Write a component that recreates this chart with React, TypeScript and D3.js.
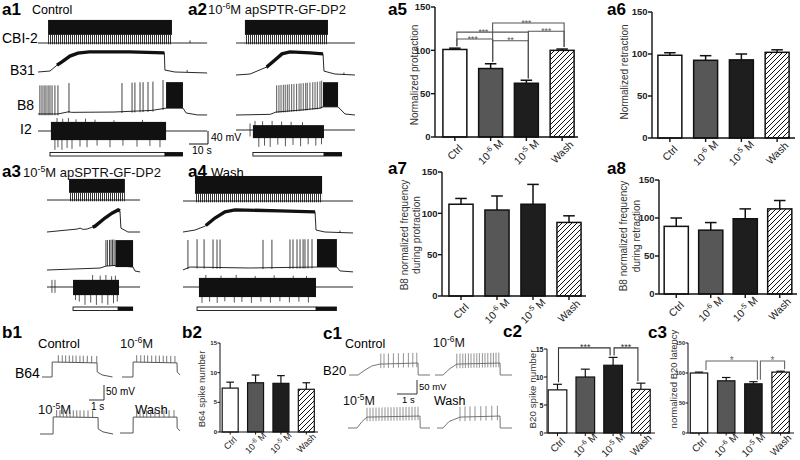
import React from "react";
import * as d3 from "d3";

const FONT = "Arial, 'Liberation Sans', Helvetica, sans-serif";

/* ---------------- bar-chart data ---------------- */
const conditions = ["Ctrl", "1e-6", "1e-5", "Wash"];
const conditionText = ["Ctrl", "10", "10", "Wash"];
const conditionExp = ["", "-6", "-5", ""];
const conditionUnit = ["", " M", " M", ""];
const barFills = ["#ffffff", "#575757", "#1e1e1e", "url(#hatch)"];

const ticks150 = [0, 50, 100, 150];
const ticks15 = [0, 5, 10, 15];

const a5Protraction = [101, 79, 62, 100];
const a5Err = [1.5, 5.5, 3.5, 1.5];
const a6Retraction = [98.5, 92.5, 93, 102];
const a6Err = [3, 5.5, 7, 3];
const a7FreqProtraction = [111, 104, 111, 89];
const a7Err = [7, 17, 24, 8];
const a8FreqRetraction = [89, 84, 99, 112];
const a8Err = [11, 10, 13, 11];
const b2SpikeNumber = [7.4, 8.3, 8.2, 7.2];
const b2Err = [1, 1.3, 1.3, 1.1];
const c2SpikeNumber = [7.7, 10, 12.1, 7.8];
const c2Err = [1, 1.4, 1.4, 1.1];
const c3Latency = [100, 87, 82, 101.5];
const c3Err = [1.5, 5.5, 3.5, 1.5];

type Bracket = { from: number; to: number; level: number; label: string; at?: number };
const a5Sig: Bracket[] = [
  { from: 0, to: 1, level: 113, label: "***", at: 0.5 },
  { from: 0, to: 2, level: 121, label: "***", at: 0.8 },
  { from: 1, to: 3, level: 131.5, label: "***", at: 2 },
  { from: 1, to: 2, level: 111, label: "**" },
  { from: 2, to: 3, level: 122, label: "***" },
];
const c2Sig: Bracket[] = [
  { from: 0, to: 2, level: 15.2, label: "***", at: 1 },
  { from: 2, to: 3, level: 15.2, label: "***" },
];
const c3Sig: Bracket[] = [
  { from: 0, to: 2, level: 120, label: "*", at: 1.2 },
  { from: 2, to: 3, level: 120, label: "*", at: 2.7 },
];

/* ---------------- trace data (time in s, potential in mV rel. rest) ---------------- */
type TraceSpec = {
  pts: [number, number][];
  spikes?: number[];
  spikeUp?: number;
  spikeDown?: number;
  blocks?: [number, number, number, number][];
  teeth?: [number, number, number, number][];
  thick?: [number, number];
  tips?: [number, number][];
};

// a1 Control
const a1Cbi2: TraceSpec = { pts: [[0, 0], [89, 0]], blocks: [[5.3, 70.5, 25, 71]], teeth: [[5.3, 70.5, -4, 25]], spikes: [80], spikeUp: 8 };
const a1B31: TraceSpec = {
  pts: [[0, 0], [6.3, 3], [10, 21], [12.6, 31], [16.8, 49], [21, 58], [27, 62], [48, 62], [66.5, 59], [66.8, 6], [72, 0], [78, -1], [89, -3]],
  thick: [10, 66.5], spikes: [78.5], spikeUp: 7,
};
const a1B8: TraceSpec = {
  pts: [[0, -3], [10.5, -3], [16.3, 4], [17.5, 2], [40, 3], [60, 8], [67.4, 15], [76.3, 15], [78, 0], [84, -6], [89, -6]],
  blocks: [[67.4, 76.3, 15, 95]],
  spikes: [1, 2.1, 3.2, 4.2, 5.3, 6.3, 7.4, 8.9, 10.5, 16.3, 44.2, 49.5, 51, 53.7, 55.3, 57.9, 60.5, 65.8],
  spikeUp: 88, spikeDown: 4,
};
const a1I2: TraceSpec = {
  pts: [[0, 0], [89, 0]], blocks: [[6.8, 67.4, -28, 28]],
  tips: [[10, 40], [13, 38], [16, 40], [20, 36], [25, 38], [30, 35], [40, 33], [55, 34],
    [8.9, -58], [10.5, -50], [12.6, -58], [15.3, -52], [17.9, -55], [22.1, -48], [25.8, -50], [31.1, -45], [37.9, -50], [44.7, -45], [52.1, -48], [58.9, -46], [64.2, -50]],
};
const a1Phases = [6.3, 66.8, 76.3];

// a2 10^-6 M
const a2Cbi2: TraceSpec = { pts: [[0, 0], [62.6, 0]], blocks: [[4.7, 48.4, 25, 71]], teeth: [[4.7, 48.4, -4, 25]] };
const a2B31: TraceSpec = {
  pts: [[0, 0], [7.4, 3], [16.3, 25], [20.5, 46], [24.2, 65], [28.4, 71], [39, 68], [45.8, 65], [46.3, 12], [52, 3], [62.6, 0]],
  thick: [16, 45.8], spikes: [56.8], spikeUp: 6,
};
const a2B8: TraceSpec = {
  pts: [[0, 0], [18, 2], [21, 9], [33.7, 15], [44, 21], [45.8, 25], [53.7, 25], [57.4, 3], [62.6, 0]],
  blocks: [[45.8, 53.7, 25, 101]],
  spikes: [21.4, 22.6, 23.7, 24.9, 25.9, 27, 28, 29.3, 30.5, 31.9, 33.2, 34.2, 35.4, 36.7, 37.5, 38.9, 40.4, 41.6, 42.8, 44.2, 45.1],
  spikeUp: 82, spikeDown: 3,
};
const a2I2: TraceSpec = {
  pts: [[0, 0], [62.6, 0]], blocks: [[8.9, 46.3, -25, 15]],
  tips: [[7.4, 20], [7.4, -20], [10, 28], [14, 27], [19, 28], [24, 26], [29, 25], [35, 24],
    [12, -52], [15, -48], [18, -52], [22, -45], [26, -50], [30, -46], [34, -50], [38, -44], [42, -48], [45, -44]],
};
const a2Phases = [8.9, 46.3, 55.8];

// a3 10^-5 M
const a3Cbi2: TraceSpec = { pts: [[0, 0], [49, 0]], blocks: [[11.6, 41, 22, 65]], teeth: [[11.6, 41, -4, 22]] };
const a3B31: TraceSpec = {
  pts: [[0, 0], [15.8, 9], [17.4, 12], [19, 8], [21, 9], [25.3, 18], [30.5, 43], [34.2, 58], [37.4, 68], [38.4, 65], [38.9, 12], [42.6, 0], [49, 0]],
  thick: [24, 38.4],
};
const a3B8: TraceSpec = {
  pts: [[0, 0], [27.9, 6], [31, 12], [36, 14], [45.3, 9], [46.3, -3], [49, -6]],
  blocks: [[36, 45.3, 9, 92]],
  spikes: [31, 31.8, 32.9, 33.7, 34.5, 35.3], spikeUp: 80,
};
const a3I2: TraceSpec = {
  pts: [[0, 0], [49, 0]], blocks: [[13.7, 37.9, -25, 22]],
  tips: [[2.6, 22], [2.6, -18], [4.2, 22], [4.2, -18], [24, 37], [28, 35], [31, 37], [34, 33], [36, 35],
    [15, -40], [17, -45], [20, -55], [23, -48], [26, -55], [29, -50], [32, -55], [35, -50], [37, -45]],
};
const a3Phases = [13.7, 37.4, 45.3];

// a4 Wash
const a4Cbi2: TraceSpec = { pts: [[0, 0], [89.5, 0]], blocks: [[6.3, 73.2, 22, 77]], teeth: [[6.3, 73.2, -4, 22]] };
const a4B31: TraceSpec = {
  pts: [[0, 0], [6.3, 6], [11.6, 18], [16.8, 43], [22.1, 62], [27.4, 68], [51, 65], [69.5, 62], [70, 6], [74.7, 0], [89.5, -3]],
  thick: [12, 69.5], spikes: [82.6], spikeUp: 6,
};
const a4B8: TraceSpec = {
  pts: [[0, -6], [3.7, 3], [35, 0], [70.5, 3], [81, 3], [82.6, -9], [89.5, -12]],
  blocks: [[70.5, 81, 3, 89]],
  spikes: [2.6, 7.4, 11.1, 15.8, 17.9, 19.5, 42.1, 46.8, 56.3, 57.9, 60, 61.6, 63.2, 64.2, 65.8, 67.9],
  spikeUp: 86, spikeDown: 4,
};
const a4I2: TraceSpec = {
  pts: [[0, 0], [89.5, 0]], blocks: [[8.4, 70, -31, 28]],
  tips: [[12, 37], [20, 35], [28, 37], [38, 34], [48, 36], [58, 35], [65, 34],
    [10, -49], [14, -45], [18, -49], [22, -44], [27, -48], [31, -46], [36, -49], [41, -45], [46, -48], [51, -44], [56, -47], [61, -45], [66, -48]],
};
const a4Phases = [7.4, 70, 81];

// b1 B64
const b1Control: TraceSpec = {
  pts: [[0, 0], [0.67, 0], [0.68, 50], [3.67, 47], [3.68, 17], [4.0, 7], [4.7, 0]],
  spikes: [1.09, 1.35, 1.58, 1.82, 2.05, 2.27, 2.53, 2.75, 3.02, 3.31, 3.65], spikeUp: 23,
};
const b1Low: TraceSpec = {
  pts: [[0, 0], [0.73, 0], [0.74, 50], [3.67, 47], [3.68, 17], [3.87, 7]],
  spikes: [0.98, 1.25, 1.49, 1.71, 1.98, 2.25, 2.49, 2.75, 2.98, 3.25, 3.53], spikeUp: 23,
};
const b1High: TraceSpec = {
  pts: [[0, 0], [0.87, 0], [0.88, 57], [3.87, 55], [3.88, 17], [4.2, 7], [4.87, 0]],
  spikes: [1.11, 1.33, 1.55, 1.78, 2, 2.22, 2.45, 2.67, 2.93, 3.2, 3.51], spikeUp: 23,
};
const b1Wash: TraceSpec = {
  pts: [[0, 0], [0.87, 0], [0.88, 53], [3.8, 53], [3.81, 17], [4.0, 7]],
  spikes: [1.11, 1.33, 1.55, 1.78, 2.05, 2.33, 2.62, 2.93, 3.27, 3.6], spikeUp: 23,
};

// c1 B20
const c1Control: TraceSpec = {
  pts: [[0, 0], [0.45, 0], [0.8, 19], [1.15, 35], [1.55, 42], [3.45, 46], [3.46, 0], [4.05, 0]],
  spikes: [1.59, 1.75, 1.97, 2.22, 2.47, 2.72, 2.97, 3.19, 3.39], spikeUp: 40, spikeDown: 16,
};
const c1Low: TraceSpec = {
  pts: [[0, 0], [0.4, 0], [0.75, 25], [1.1, 42], [3.25, 46], [3.26, 0], [3.85, 0]],
  spikes: [1.09, 1.25, 1.39, 1.52, 1.67, 1.8, 1.95, 2.09, 2.22, 2.37, 2.5, 2.64, 2.79, 2.92, 3.05, 3.19], spikeUp: 40, spikeDown: 16,
};
const c1High: TraceSpec = {
  pts: [[0, 0], [0.45, 0], [0.7, 25], [0.95, 42], [3.6, 46], [3.61, 0], [4.1, 0]],
  spikes: [0.95, 1.1, 1.25, 1.4, 1.55, 1.7, 1.85, 2.0, 2.15, 2.3, 2.45, 2.6, 2.75, 2.9, 3.05, 3.2, 3.35, 3.5], spikeUp: 36, spikeDown: 16,
};
const c1Wash: TraceSpec = {
  pts: [[0, 0], [0.3, 0], [0.6, 25], [1.15, 42], [3.15, 46], [3.16, 0], [3.75, 0]],
  spikes: [1.15, 1.4, 1.65, 1.9, 2.19, 2.45, 2.74, 3.02], spikeUp: 40, spikeDown: 16,
};

/* ---------------- components ---------------- */
type Lin = d3.ScaleLinear<number, number>;

function TraceG({ spec, xs, ys, color = "#111", w = 0.9, spikeW = 0.8 }: { spec: TraceSpec; xs: Lin; ys: Lin; color?: string; w?: number; spikeW?: number }) {
  const line = d3.line<[number, number]>().x((d) => xs(d[0])).y((d) => ys(d[1]));
  const base = d3.scaleLinear().domain(spec.pts.map((p) => p[0])).range(spec.pts.map((p) => p[1])).clamp(true);
  const up = spec.spikeUp || 0;
  const dn = spec.spikeDown || 0;
  const spikeD = (spec.spikes || [])
    .map((t) => `M${xs(t)},${ys(base(t) - dn)}L${xs(t)},${ys(base(t) + up)}`)
    .join("");
  const tipD = (spec.tips || []).map(([t, v]) => `M${xs(t)},${ys(base(t))}L${xs(t)},${ys(v)}`).join("");
  let thickD: string | null = null;
  if (spec.thick) {
    const [t0, t1] = spec.thick;
    const seg: [number, number][] = [[t0, base(t0)], ...spec.pts.filter((p) => p[0] > t0 && p[0] < t1), [t1, base(t1)]];
    thickD = line(seg);
  }
  return (
    <g>
      {(spec.teeth || []).map(([t0, t1, lo, hi], i) => (
        <rect key={"t" + i} x={xs(t0)} y={ys(hi)} width={xs(t1) - xs(t0)} height={ys(lo) - ys(hi)} fill="url(#teeth)" />
      ))}
      <path d={line(spec.pts) || ""} fill="none" stroke={color} strokeWidth={w} />
      {thickD && <path d={thickD} fill="none" stroke={color} strokeWidth={3.4} />}
      {spikeD && <path d={spikeD} fill="none" stroke={color} strokeWidth={spikeW} />}
      {tipD && <path d={tipD} fill="none" stroke={color} strokeWidth={0.7} />}
      {(spec.blocks || []).map(([t0, t1, lo, hi], i) => (
        <rect key={"b" + i} x={xs(t0)} y={ys(hi)} width={xs(t1) - xs(t0)} height={ys(lo) - ys(hi)} fill={color} />
      ))}
    </g>
  );
}

function PhaseBar({ phases, xs, y }: { phases: number[]; xs: Lin; y: number }) {
  return (
    <g>
      <rect x={xs(phases[0])} y={y} width={xs(phases[1]) - xs(phases[0])} height={3.5} fill="#fff" stroke="#111" strokeWidth={0.9} />
      <rect x={xs(phases[1])} y={y - 0.45} width={xs(phases[2]) - xs(phases[1])} height={4.4} fill="#111" />
    </g>
  );
}

const aY = (base: number) => d3.scaleLinear().domain([0, 40]).range([base, base - 13]);
const aX = (x0: number) => d3.scaleLinear().domain([0, 10]).range([x0, x0 + 19]);
const bX = (x0: number) => d3.scaleLinear().domain([0, 1]).range([x0, x0 + 15]);
const bY = (base: number) => d3.scaleLinear().domain([0, 50]).range([base, base - 15]);
const cX = (x0: number) => d3.scaleLinear().domain([0, 1]).range([x0, x0 + 20]);
const cY = (base: number) => d3.scaleLinear().domain([0, 50]).range([base, base - 13]);

type BarProps = {
  band: [number, number]; pad: number; axisX: number; axisEnd: number;
  yRange: [number, number]; max: number; ticks: number[];
  values: number[]; errs: number[];
  tickFont: number; xFont: number; xDy: number;
  ylabel: string[]; ylabelX: number[]; ylabelY: number; ylabelFont: number;
  sig?: Bracket[]; sigColor?: string; starFont?: number; legDx?: [number, number];
  barStroke: number; axisStroke: number; tickLen: number;
};

function BarPanel(p: BarProps) {
  const x = d3.scaleBand<string>().domain(conditions).range(p.band).paddingInner(p.pad).paddingOuter(p.pad / 2);
  const y = d3.scaleLinear().domain([0, p.max]).range(p.yRange);
  const bw = x.bandwidth();
  const cx = (i: number) => (x(conditions[i]) as number) + bw / 2;
  const at = d3.scaleLinear().domain([0, 1]).range([cx(0), cx(1)]);
  const y0 = y(0);
  const legDx = p.legDx || [2, 2];
  const sc = p.sigColor || "#444";
  return (
    <g>
      {p.values.map((v, i) => (
        <g key={i}>
          <line x1={cx(i)} x2={cx(i)} y1={y(v)} y2={y(v + p.errs[i])} stroke="#111" strokeWidth={p.barStroke} />
          <line x1={cx(i) - bw * 0.24} x2={cx(i) + bw * 0.24} y1={y(v + p.errs[i])} y2={y(v + p.errs[i])} stroke="#111" strokeWidth={p.barStroke} />
          <rect x={x(conditions[i])} y={y(v)} width={bw} height={y0 - y(v)} fill={barFills[i]} stroke="#111" strokeWidth={p.barStroke} />
        </g>
      ))}
      <line x1={p.axisX} x2={p.axisX} y1={y0} y2={y(p.max)} stroke="#111" strokeWidth={p.axisStroke} />
      {p.ticks.map((t) => (
        <g key={t}>
          <line x1={p.axisX - p.tickLen} x2={p.axisX} y1={y(t)} y2={y(t)} stroke="#111" strokeWidth={p.axisStroke} />
          <text x={p.axisX - p.tickLen - 0.5} y={y(t)} dy="0.36em" textAnchor="end" fontSize={p.tickFont} fontWeight="bold" fill="#222">{t}</text>
        </g>
      ))}
      <line x1={p.axisX} x2={p.axisEnd} y1={y0} y2={y0} stroke="#111" strokeWidth={p.axisStroke} />
      {conditions.map((c, i) => (
        <line key={c} x1={cx(i)} x2={cx(i)} y1={y0} y2={y0 + p.tickLen} stroke="#111" strokeWidth={p.axisStroke} />
      ))}
      {conditions.map((c, i) => (
        <text key={"l" + c} transform={`translate(${cx(i)},${y0 + p.xDy}) rotate(-45)`} textAnchor="middle" fontSize={p.xFont} fill="#222" dy="0.35em">
          {conditionText[i]}
          {conditionExp[i] && <tspan dy={-p.xFont * 0.4} fontSize={p.xFont * 0.72}>{conditionExp[i]}</tspan>}
          {conditionUnit[i] && <tspan dy={p.xFont * 0.4}>{conditionUnit[i]}</tspan>}
        </text>
      ))}
      {p.ylabel.map((s, k) => (
        <text key={s} transform={`translate(${p.ylabelX[k]},${p.ylabelY}) rotate(-90)`} textAnchor="middle" fontSize={p.ylabelFont} fill="#333">{s}</text>
      ))}
      {(p.sig || []).map((b, k) => {
        const xl = cx(b.from) + legDx[0];
        const xr = cx(b.to) + legDx[1];
        const yl = y(b.level);
        const bl = y(p.values[b.from] + p.errs[b.from]) - 2;
        const br = y(p.values[b.to] + p.errs[b.to]) - 2;
        const sx = b.at !== undefined ? at(b.at) : (xl + xr) / 2;
        return (
          <g key={"s" + k}>
            <path d={`M${xl},${bl}V${yl}H${xr}V${br}`} fill="none" stroke={sc} strokeWidth={1.1} />
            <text x={sx} y={yl + 2.6} textAnchor="middle" fontSize={p.starFont || 10} fill={sc}>{b.label}</text>
          </g>
        );
      })}
    </g>
  );
}

function Sup({ x, y, size, base, exp, rest }: { x: number; y: number; size: number; base: string; exp: string; rest: string }) {
  return (
    <text x={x} y={y} fontSize={size} fill="#111">
      {base}
      <tspan dy={-size * 0.4} fontSize={size * 0.68}>{exp}</tspan>
      <tspan dy={size * 0.4}>{rest}</tspan>
    </text>
  );
}

const PL = 17; // panel label font size

export default function App() {
  const x1 = aX(38), x2 = aX(236), x3 = aX(47), x4 = aX(183);
  return (
    <svg width={800} height={460} viewBox="0 0 800 460" style={{ position: "absolute", left: 0, top: 0, fontFamily: FONT }}>
      <defs>
        <pattern id="hatch" patternUnits="userSpaceOnUse" width={5} height={5}>
          <rect width={5} height={5} fill="#fff" />
          <path d="M-1,1 l2,-2 M0,5 l5,-5 M4,6 l2,-2" stroke="#111" strokeWidth={1} />
        </pattern>
        <pattern id="teeth" patternUnits="userSpaceOnUse" width={2} height={20}>
          <rect x={0} y={0} width={1} height={20} fill="#333" />
        </pattern>
      </defs>
      <rect width={800} height={460} fill="#fff" />

      {/* ---------- a1 ---------- */}
      <text x={2} y={15} fontSize={PL} fontWeight="bold">a1</text>
      <text x={32} y={13.5} fontSize={12.5}>Control</text>
      <text x={2} y={43} fontSize={14}>CBI-2</text>
      <text x={10} y={75} fontSize={14}>B31</text>
      <text x={17} y={110} fontSize={14}>B8</text>
      <text x={20} y={134} fontSize={14}>I2</text>
      <TraceG spec={a1Cbi2} xs={x1} ys={aY(43)} />
      <TraceG spec={a1B31} xs={x1} ys={aY(72)} />
      <TraceG spec={a1B8} xs={x1} ys={aY(113)} />
      <TraceG spec={a1I2} xs={x1} ys={aY(131)} />
      <PhaseBar phases={a1Phases} xs={x1} y={152.5} />
      <path d="M189,144H208V131" fill="none" stroke="#111" strokeWidth={1} />
      <text x={211} y={141} fontSize={10.5}>40 mV</text>
      <text x={192} y={154} fontSize={10.5}>10 s</text>

      {/* ---------- a2 ---------- */}
      <text x={188} y={15} fontSize={PL} fontWeight="bold">a2</text>
      <Sup x={208} y={14} size={13} base="10" exp="-6" rest="M apSPTR-GF-DP2" />
      <TraceG spec={a2Cbi2} xs={x2} ys={aY(43)} />
      <TraceG spec={a2B31} xs={x2} ys={aY(75)} />
      <TraceG spec={a2B8} xs={x2} ys={aY(115)} spikeW={0.7} />
      <TraceG spec={a2I2} xs={x2} ys={aY(130)} />
      <PhaseBar phases={a2Phases} xs={x2} y={152.5} />

      {/* ---------- a3 ---------- */}
      <text x={2} y={177} fontSize={PL} fontWeight="bold">a3</text>
      <Sup x={23} y={177} size={13} base="10" exp="-5" rest="M apSPTR-GF-DP2" />
      <TraceG spec={a3Cbi2} xs={x3} ys={aY(200)} />
      <TraceG spec={a3B31} xs={x3} ys={aY(232)} />
      <TraceG spec={a3B8} xs={x3} ys={aY(270)} />
      <TraceG spec={a3I2} xs={x3} ys={aY(287)} />
      <PhaseBar phases={a3Phases} xs={x3} y={307} />

      {/* ---------- a4 ---------- */}
      <text x={188} y={177} fontSize={PL} fontWeight="bold">a4</text>
      <text x={211} y={177} fontSize={13}>Wash</text>
      <TraceG spec={a4Cbi2} xs={x4} ys={aY(201)} />
      <TraceG spec={a4B31} xs={x4} ys={aY(232)} />
      <TraceG spec={a4B8} xs={x4} ys={aY(268)} />
      <TraceG spec={a4I2} xs={x4} ys={aY(287)} />
      <PhaseBar phases={a4Phases} xs={x4} y={307} />

      {/* ---------- a5 - a8 ---------- */}
      <text x={388} y={15} fontSize={PL} fontWeight="bold">a5</text>
      <BarPanel band={[437, 580]} pad={0.33} axisX={435} axisEnd={578} yRange={[137, 7]} max={150} ticks={ticks150}
        values={a5Protraction} errs={a5Err} tickFont={9.5} xFont={10.5} xDy={15}
        ylabel={["Normalized protraction"]} ylabelX={[417.5]} ylabelY={75} ylabelFont={10}
        sig={a5Sig} sigColor="#555" starFont={8.5} legDx={[2, 2]} barStroke={1.5} axisStroke={1.4} tickLen={4} />

      <text x={607} y={15} fontSize={PL} fontWeight="bold">a6</text>
      <BarPanel band={[652, 795]} pad={0.33} axisX={652} axisEnd={795} yRange={[138, 12]} max={150} ticks={ticks150}
        values={a6Retraction} errs={a6Err} tickFont={9.5} xFont={10.5} xDy={15}
        ylabel={["Normalized retraction"]} ylabelX={[627.5]} ylabelY={72} ylabelFont={10}
        barStroke={1.5} axisStroke={1.4} tickLen={4} />

      <text x={388} y={174} fontSize={PL} fontWeight="bold">a7</text>
      <BarPanel band={[443, 587]} pad={0.33} axisX={442} axisEnd={586} yRange={[296, 172]} max={150} ticks={ticks150}
        values={a7FreqProtraction} errs={a7Err} tickFont={9.5} xFont={10.5} xDy={15}
        ylabel={["B8 normalized frequency", "during protraction"]} ylabelX={[407.5, 419.5]} ylabelY={235} ylabelFont={10}
        barStroke={1.5} axisStroke={1.4} tickLen={4} />

      <text x={607} y={174} fontSize={PL} fontWeight="bold">a8</text>
      <BarPanel band={[659, 797]} pad={0.3} axisX={659} axisEnd={797} yRange={[294, 180]} max={150} ticks={ticks150}
        values={a8FreqRetraction} errs={a8Err} tickFont={9.5} xFont={10.5} xDy={15}
        ylabel={["B8 normalized frequency", "during retraction"]} ylabelX={[627, 640]} ylabelY={236} ylabelFont={10}
        barStroke={1.5} axisStroke={1.4} tickLen={4} />

      {/* ---------- b1 ---------- */}
      <text x={2} y={338} fontSize={PL} fontWeight="bold">b1</text>
      <text x={38} y={348} fontSize={13}>Control</text>
      <Sup x={120} y={348} size={13} base="10" exp="-6" rest="M" />
      <text x={15} y={378} fontSize={14}>B64</text>
      <Sup x={38} y={414} size={13} base="10" exp="-5" rest="M" />
      <text x={135} y={414} fontSize={13}>Wash</text>
      <TraceG spec={b1Control} xs={bX(42)} ys={bY(377)} color="#555" w={1} />
      <TraceG spec={b1Low} xs={bX(122)} ys={bY(377)} color="#555" w={1} />
      <TraceG spec={b1High} xs={bX(40)} ys={bY(434)} color="#555" w={1} />
      <TraceG spec={b1Wash} xs={bX(120)} ys={bY(433)} color="#555" w={1} />
      <path d="M89,400H104V385" fill="none" stroke="#333" strokeWidth={1} />
      <text x={106} y={395} fontSize={10}>50 mV</text>
      <text x={91} y={410} fontSize={10}>1 s</text>

      {/* ---------- b2 ---------- */}
      <text x={182} y={338} fontSize={PL} fontWeight="bold">b2</text>
      <BarPanel band={[217.5, 319]} pad={0.37} axisX={220} axisEnd={318} yRange={[432, 343]} max={15} ticks={ticks15}
        values={b2SpikeNumber} errs={b2Err} tickFont={6} xFont={9} xDy={11}
        ylabel={["B64 spike number"]} ylabelX={[205]} ylabelY={389} ylabelFont={9.5}
        barStroke={1.2} axisStroke={1} tickLen={2.5} />

      {/* ---------- c1 ---------- */}
      <text x={323} y={339} fontSize={PL} fontWeight="bold">c1</text>
      <text x={345} y={348} fontSize={12.5}>Control</text>
      <Sup x={433} y={347} size={12.5} base="10" exp="-6" rest="M" />
      <text x={323} y={375} fontSize={13}>B20</text>
      <Sup x={343} y={405} size={12.5} base="10" exp="-5" rest="M" />
      <text x={434} y={405} fontSize={12.5}>Wash</text>
      <TraceG spec={c1Control} xs={cX(349)} ys={cY(375)} color="#666" w={0.9} spikeW={0.7} />
      <TraceG spec={c1Low} xs={cX(435)} ys={cY(375)} color="#666" w={0.9} spikeW={0.7} />
      <TraceG spec={c1High} xs={cX(348)} ys={cY(428)} color="#666" w={0.9} spikeW={0.7} />
      <TraceG spec={c1Wash} xs={cX(437)} ys={cY(428)} color="#666" w={0.9} spikeW={0.7} />
      <path d="M397,394H417V380" fill="none" stroke="#333" strokeWidth={1} />
      <text x={419} y={390} fontSize={9.5}>50 mV</text>
      <text x={402} y={403} fontSize={9.5}>1 s</text>

      {/* ---------- c2 ---------- */}
      <text x={503} y={337} fontSize={PL} fontWeight="bold">c2</text>
      <BarPanel band={[543.6, 654.8]} pad={0.33} axisX={547} axisEnd={655} yRange={[433, 349]} max={15} ticks={ticks15}
        values={c2SpikeNumber} errs={c2Err} tickFont={7} xFont={10} xDy={12}
        ylabel={["B20 spike number"]} ylabelX={[535.5]} ylabelY={389} ylabelFont={9.8}
        sig={c2Sig} sigColor="#333" starFont={9} legDx={[1, -3]} barStroke={1.2} axisStroke={1} tickLen={3} />

      {/* ---------- c3 ---------- */}
      <text x={648} y={338} fontSize={PL} fontWeight="bold">c3</text>
      <BarPanel band={[685.4, 794.2]} pad={0.36} axisX={688} axisEnd={794} yRange={[433, 343]} max={150} ticks={ticks150}
        values={c3Latency} errs={c3Err} tickFont={5.5} xFont={10} xDy={12}
        ylabel={["normalized B20 latency"]} ylabelX={[677]} ylabelY={379} ylabelFont={9.5}
        sig={c3Sig} sigColor="#666" starFont={10} legDx={[7, 4]} barStroke={1.2} axisStroke={1} tickLen={2.5} />
    </svg>
  );
}
